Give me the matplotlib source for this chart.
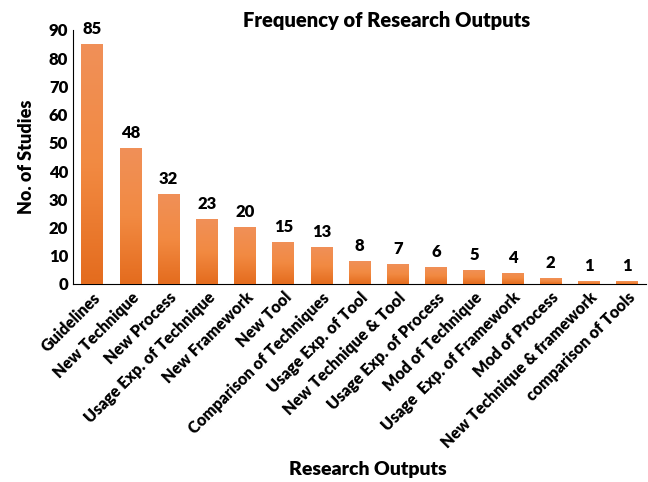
import matplotlib.pyplot as plt
import numpy as np
from matplotlib.colors import LinearSegmentedColormap

plt.rcParams['font.family'] = ['Lato', 'DejaVu Sans']
plt.rcParams['font.weight'] = 'heavy'

categories = ['Guidelines', 'New Technique', 'New Process', 'Usage Exp. of Technique',
              'New Framework', 'New Tool', 'Comparison of Techniques', 'Usage Exp. of Tool',
              'New Technique & Tool', 'Usage Exp. of Process', 'Mod of Technique',
              'Usage  Exp. of Framework', 'Mod of Process', 'New Technique & framework',
              'comparison of Tools']
counts = [85, 48, 32, 23, 20, 15, 13, 8, 7, 6, 5, 4, 2, 1, 1]
yticks = [0, 10, 20, 30, 40, 50, 60, 70, 80, 90]

fig = plt.figure(figsize=(6.48, 4.82), dpi=100)
ax = fig.add_axes([0.113, 0.411, 0.884, 0.527])

x = np.arange(len(categories))
bars = ax.bar(x, counts, width=0.57, color='#EE7E32', zorder=2)

# soft gradient on each bar (lighter at top)
grad = np.linspace(0, 1, 100).reshape(-1, 1)
cmap = LinearSegmentedColormap.from_list('o', ['#E46C1E', '#F28A42', '#F09058'])
for b in bars:
    im = ax.imshow(grad, extent=[b.get_x(), b.get_x() + b.get_width(), 0, b.get_height()],
                   origin='lower', aspect='auto', cmap=cmap, zorder=3)
    im.set_clip_path(b)

for xi, v in zip(x, counts):
    ax.text(xi, v + 2.5, str(v), ha='center', va='bottom', fontsize=12, fontweight='heavy')

ax.set_xlim(-0.5, 14.5)
ax.set_ylim(0, 90)
ax.set_yticks(yticks)
ax.set_xticks(x)
ax.set_xticklabels(categories, rotation=45, ha='right', rotation_mode='anchor', fontsize=11.5)
ax.tick_params(axis='y', length=0, labelsize=12)
ax.tick_params(axis='x', length=0, pad=4)
for s in ['top', 'right']:
    ax.spines[s].set_visible(False)
ax.spines['left'].set_linewidth(0.8)
ax.spines['bottom'].set_linewidth(0.8)

fig.text(0.597, 0.958, 'Frequency of Research Outputs', ha='center', va='center',
         fontsize=14.5, fontweight='heavy')
ax.set_ylabel('No. of Studies', fontsize=13, fontweight='heavy', labelpad=10)
fig.text(0.568, 0.025, 'Research Outputs', ha='center', va='center',
         fontsize=14, fontweight='heavy')

fig.savefig('out.png', dpi=100)
